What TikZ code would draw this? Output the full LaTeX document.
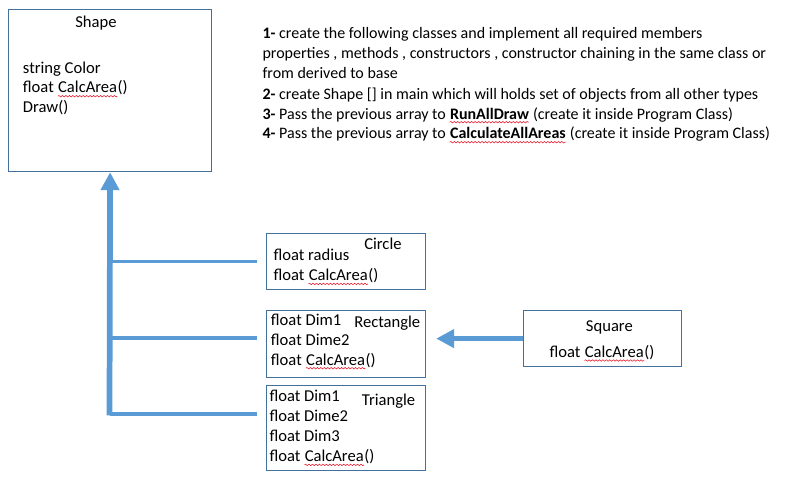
\documentclass[tikz,border=0pt]{standalone}
\usepackage{fontspec}
\setmainfont{Carlito}
\usetikzlibrary{arrows.meta,calc,decorations.pathmorphing}
\definecolor{boxline}{HTML}{41719C}
\definecolor{arrowblue}{HTML}{5B9BD5}
\definecolor{squig}{HTML}{E81123}
\newcommand\squigunder[1]{\draw[wave] ([yshift=-2.4pt]#1.base west) -- ([yshift=-2.4pt]#1.base east);}
\newcommand\wsp{\hbox{\ }}
\begin{document}
\begin{tikzpicture}[x=0.75pt,y=-0.75pt,
  font=\fontsize{12pt}{15pt}\selectfont,
  cls/.style={draw=boxline, line width=0.9pt, inner sep=0pt, anchor=north west},
  txt/.style={anchor=base west, inner sep=0pt},
  btxt/.style={anchor=base west, inner sep=0pt, font=\fontsize{12.45pt}{15pt}\selectfont},
  trunk/.style={draw=arrowblue, line width=4.3pt},
  branch/.style={draw=arrowblue, line width=2.3pt},
  bigtip/.style={-{Triangle[length=13.5pt,width=13.5pt]}},
  wave/.style={draw=squig, line width=0.4pt, decorate, decoration={snake, amplitude=0.55pt, segment length=2.6pt}}]
\useasboundingbox (0,0) rectangle (804,492);

% class boxes
\node[cls, minimum width=152.25pt, minimum height=121.5pt] (shape) at (8,9) {};
\node[cls, minimum width=119.25pt, minimum height=42pt] (circle) at (266,233) {};
\node[cls, minimum width=119.25pt, minimum height=50.25pt] (rect) at (266,310) {};
\node[cls, minimum width=119.25pt, minimum height=63.75pt] (tri) at (266,385) {};
\node[cls, minimum width=118.5pt, minimum height=42pt] (square) at (523,310) {};

% Shape texts
\node[btxt] (shT) at (75,28) {Shape};
\node[btxt] (sh1) at (22.7,73.5) {string Color};
\node[btxt] (sh2a) at (22.7,93) {float\wsp};
\node[btxt] (sh2b) at (sh2a.base east) {CalcArea};
\node[btxt] (sh2c) at (sh2b.base east) {()};
\node[btxt] (sh3) at (22.7,113) {Draw()};

% Circle texts
\node[btxt] (ciT) at (364,249.3) {Circle};
\node[btxt] (ci1) at (273.3,260.7) {float radius};
\node[btxt] (ci2a) at (273.3,280.7) {float\wsp};
\node[btxt] (ci2b) at (ci2a.base east) {CalcArea};
\node[btxt] (ci2c) at (ci2b.base east) {()};

% Rectangle texts
\node[btxt] (reT) at (354,327.3) {Rectangle};
\node[btxt] (re1) at (270.7,325) {float Dim1};
\node[btxt] (re2) at (270.7,345) {float Dime2};
\node[btxt] (re3a) at (270.7,365) {float\wsp};
\node[btxt] (re3b) at (re3a.base east) {CalcArea};
\node[btxt] (re3c) at (re3b.base east) {()};

% Triangle texts
\node[btxt] (trT) at (361.7,405) {Triangle};
\node[btxt] (tr1) at (269.3,401.7) {float Dim1};
\node[btxt] (tr2) at (269.3,421.7) {float Dime2};
\node[btxt] (tr3) at (269.3,441.7) {float Dim3};
\node[btxt] (tr4a) at (269.3,461.7) {float\wsp};
\node[btxt] (tr4b) at (tr4a.base east) {CalcArea};
\node[btxt] (tr4c) at (tr4b.base east) {()};

% Square texts
\node[btxt] (sqT) at (585.7,331) {Square};
\node[btxt] (sq1a) at (549.3,357.3) {float\wsp};
\node[btxt] (sq1b) at (sq1a.base east) {CalcArea};
\node[btxt] (sq1c) at (sq1b.base east) {()};

% instructions
\node[txt] (n1) at (262.3,39) {\textbf{1-} create the following classes and implement all required members};
\node[txt] (n2) at (262.3,59) {properties , methods , constructors , constructor chaining in the same class or};
\node[txt] (n3) at (262.3,79) {from derived to base};
\node[txt] (n4) at (262.3,99) {\textbf{2-} create Shape [] in main which will holds set of objects from all other types};
\node[txt] (n5a) at (262.3,119) {\textbf{3-} Pass the previous array to\wsp};
\node[txt] (n5b) at (n5a.base east) {\textbf{RunAllDraw}};
\node[txt] (n5c) at (n5b.base east) {\wsp(create it inside Program Class)};
\node[txt] (n6a) at (262.3,139) {\textbf{4-} Pass the previous array to\wsp};
\node[txt] (n6b) at (n6a.base east) {\textbf{CalculateAllAreas}};
\node[txt] (n6c) at (n6b.base east) {\wsp(create it inside Program Class)};

% spelling squiggles
\squigunder{sh2b}
\squigunder{ci2b}
\squigunder{re3b}
\squigunder{tr4b}
\squigunder{sq1b}
\squigunder{n5b}
\squigunder{n6b}

% inheritance tree
\coordinate (bot) at (109.5,415.3);
\coordinate (b1) at (109.5,261.5);
\coordinate (b2) at (109.5,338);
\coordinate (b3) at (109.5,414);
\draw[trunk, bigtip] (bot) -- (shape.south);
\draw[branch] (b1) -- ($(circle.west |- b1)+(-9,0)$);
\draw[branch] (b2) -- ($(rect.west |- b2)+(-9,0)$);
\draw[branch] (b3) -- ($(tri.west |- b3)+(-9,0)$);

% Square -> Rectangle
\draw[trunk, bigtip] (square.west) -- ($(rect.east |- square.west)+(10,0)$);
\end{tikzpicture}
\end{document}
